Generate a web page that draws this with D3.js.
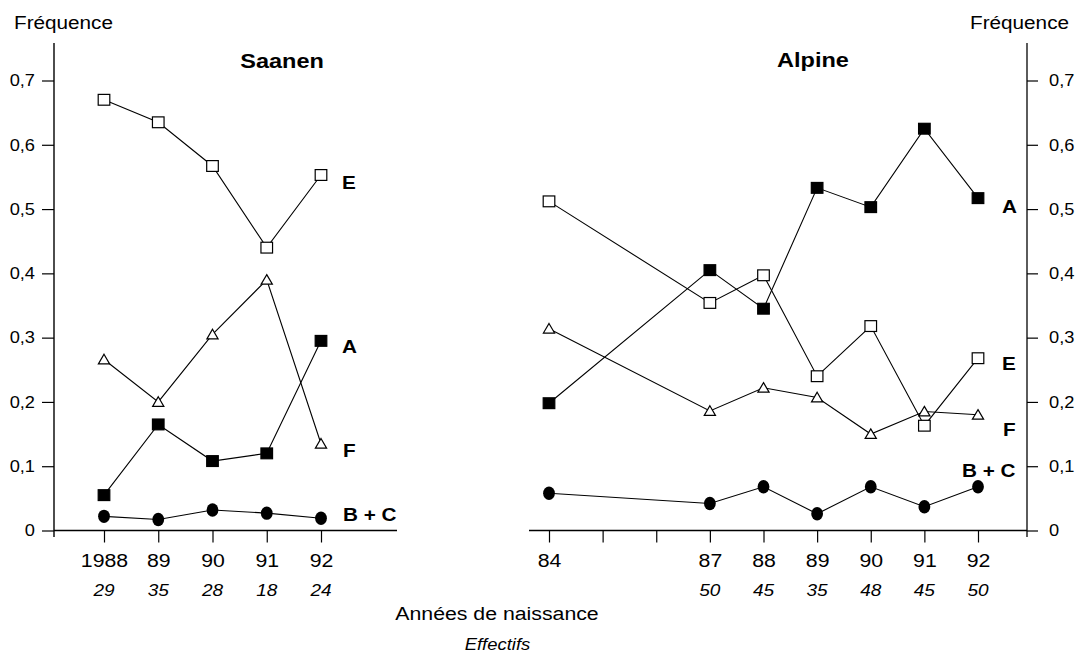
<!DOCTYPE html>
<html>
<head>
<meta charset="utf-8">
<script src="https://cdn.jsdelivr.net/npm/d3@7"></script>
<style>
  html, body { margin: 0; padding: 0; background: #fff; }
  svg { display: block; font-family: "Liberation Sans", Arial, Helvetica, sans-serif; }
</style>
</head>
<body>
<svg id="chart" width="1078" height="654"></svg>
<script>
// Fréquence des allèles par année de naissance — Saanen et Alpine
const saanenYears = [1988, 1989, 1990, 1991, 1992];
const saanenTickLabels = ["1988", "89", "90", "91", "92"];
const saanenCounts = [29, 35, 28, 18, 24];
const saanenE = [0.670, 0.635, 0.567, 0.440, 0.553];
const saanenF = [0.266, 0.200, 0.305, 0.390, 0.135];
const saanenA = [0.055, 0.165, 0.108, 0.120, 0.295];
const saanenBC = [0.022, 0.017, 0.032, 0.027, 0.019];

const alpineYears = [1984, 1987, 1988, 1989, 1990, 1991, 1992];
const alpineTickYears = [1984, 1985, 1986, 1987, 1988, 1989, 1990, 1991, 1992];
const alpineTickLabels = ["84", "", "", "87", "88", "89", "90", "91", "92"];
const alpineCountYears = [1987, 1988, 1989, 1990, 1991, 1992];
const alpineCounts = [50, 45, 35, 48, 45, 50];
const alpineA = [0.198, 0.405, 0.345, 0.533, 0.503, 0.625, 0.517];
const alpineE = [0.512, 0.354, 0.397, 0.240, 0.318, 0.163, 0.268];
const alpineF = [0.314, 0.186, 0.222, 0.207, 0.150, 0.185, 0.180];
const alpineBC = [0.058, 0.042, 0.068, 0.026, 0.068, 0.037, 0.068];

const yTicks = [0, 0.1, 0.2, 0.3, 0.4, 0.5, 0.6, 0.7];

const SX = 1.12; // horizontal widening of lettering
const svg = d3.select("#chart");

const y = d3.scaleLinear().domain([0, 0.7]).range([530.5, 80.5]);
const xS = d3.scaleLinear().domain([1988, 1992]).range([104, 321]);
const xA = d3.scaleLinear().domain([1984, 1992]).range([549, 978]);

const fmt = d => d === 0 ? "0" : d3.format(".1f")(d).replace(".", ",");

function txt(parent, x, yy, s, o = {}) {
  return parent.append("text")
    .attr("transform", `translate(${x},${yy}) scale(${SX},1)`)
    .attr("font-size", o.size || 18)
    .attr("font-weight", o.weight || "normal")
    .attr("font-style", o.style || "normal")
    .attr("text-anchor", o.anchor || "start")
    .attr("fill", "#000")
    .text(s);
}

// vertical axes
svg.append("line").attr("x1", 54).attr("x2", 54).attr("y1", 43).attr("y2", 537)
  .attr("stroke", "#000").attr("stroke-width", 1.4);
svg.append("line").attr("x1", 1027).attr("x2", 1027).attr("y1", 43).attr("y2", 537)
  .attr("stroke", "#333").attr("stroke-width", 1.6);

const gyL = svg.append("g").attr("transform", "translate(54,0)")
  .call(d3.axisLeft(y).tickValues(yTicks).tickFormat(fmt).tickSize(12).tickPadding(7));
const gyR = svg.append("g").attr("transform", "translate(1027,0)")
  .call(d3.axisRight(y).tickValues(yTicks).tickFormat(fmt).tickSize(11).tickPadding(11));
[gyL, gyR].forEach(g => {
  g.select(".domain").remove();
  g.selectAll(".tick line").attr("stroke", "#000").attr("stroke-width", 1.2);
  g.selectAll("text").attr("font-size", 16.3).attr("fill", "#000")
    .attr("font-family", "Liberation Sans, Arial, sans-serif")
    .attr("transform", `scale(${SX},1)`)
    .attr("x", function() { return +d3.select(this).attr("x") / SX; });
});

// horizontal axes
const gxL = svg.append("g").attr("transform", `translate(0,${y(0)})`)
  .call(d3.axisBottom(xS).tickValues(saanenYears).tickFormat((d, i) => saanenTickLabels[i])
    .tickSize(12).tickPadding(11).tickSizeOuter(0));
const gxR = svg.append("g").attr("transform", `translate(0,${y(0)})`)
  .call(d3.axisBottom(xA).tickValues(alpineTickYears).tickFormat((d, i) => alpineTickLabels[i])
    .tickSize(12).tickPadding(11).tickSizeOuter(0));
gxL.select(".domain").attr("d", "M54,0H397");
gxR.select(".domain").attr("d", "M529,0H1027");
[gxL, gxR].forEach(g => {
  g.select(".domain").attr("stroke", "#000").attr("stroke-width", 1.4);
  g.selectAll(".tick line").attr("stroke", "#000").attr("stroke-width", 1.2);
  g.selectAll("text").attr("font-size", 19).attr("fill", "#000")
    .attr("font-family", "Liberation Sans, Arial, sans-serif")
    .attr("transform", `scale(${SX},1)`);
});

// sample sizes (effectifs)
saanenYears.forEach((yr, i) => txt(svg, xS(yr), 596, saanenCounts[i], { size: 17, style: "italic", anchor: "middle" }));
alpineCountYears.forEach((yr, i) => txt(svg, xA(yr), 596, alpineCounts[i], { size: 17, style: "italic", anchor: "middle" }));

// series
function drawSeries(x, years, values, marker) {
  const g = svg.append("g");
  g.append("path").datum(values)
    .attr("d", d3.line().x((d, i) => x(years[i])).y(d => y(d)))
    .attr("fill", "none").attr("stroke", "#000").attr("stroke-width", 1.1);
  const pts = g.selectAll(".m").data(values).enter();
  if (marker === "openSquare" || marker === "filledSquare") {
    pts.append("rect")
      .attr("x", (d, i) => x(years[i]) - 5.8).attr("y", d => y(d) - 5.4)
      .attr("width", 11.6).attr("height", 10.8)
      .attr("fill", marker === "filledSquare" ? "#000" : "#fff")
      .attr("stroke", "#000").attr("stroke-width", 1.2);
  } else if (marker === "triangle") {
    pts.append("path")
      .attr("d", (d, i) => {
        const cx = x(years[i]), cy = y(d);
        return `M${cx},${cy - 5.2}L${cx + 5.6},${cy + 4.4}L${cx - 5.6},${cy + 4.4}Z`;
      })
      .attr("fill", "#fff").attr("stroke", "#000").attr("stroke-width", 1.2);
  } else {
    pts.append("ellipse")
      .attr("cx", (d, i) => x(years[i])).attr("cy", d => y(d))
      .attr("rx", 5.9).attr("ry", 6.7).attr("fill", "#000");
  }
}

drawSeries(xS, saanenYears, saanenE, "openSquare");
drawSeries(xS, saanenYears, saanenF, "triangle");
drawSeries(xS, saanenYears, saanenA, "filledSquare");
drawSeries(xS, saanenYears, saanenBC, "circle");

drawSeries(xA, alpineYears, alpineF, "triangle");
drawSeries(xA, alpineYears, alpineE, "openSquare");
drawSeries(xA, alpineYears, alpineA, "filledSquare");
drawSeries(xA, alpineYears, alpineBC, "circle");

// series names
const lab = { size: 18.5, weight: "bold" };
txt(svg, 342, 189, "E", lab);
txt(svg, 342, 353, "A", lab);
txt(svg, 343, 457, "F", lab);
txt(svg, 343, 521, "B + C", lab);
txt(svg, 1002, 213, "A", lab);
txt(svg, 1002, 370, "E", lab);
txt(svg, 1003, 436, "F", lab);
txt(svg, 962, 477, "B + C", lab);

// titles
txt(svg, 282, 68, "Saanen", { size: 21, weight: "bold", anchor: "middle" });
txt(svg, 813, 67, "Alpine", { size: 21, weight: "bold", anchor: "middle" });
txt(svg, 14, 29, "Fréquence", { size: 18.5 });
txt(svg, 1069, 29, "Fréquence", { size: 18.5, anchor: "end" });
txt(svg, 497, 620, "Années de naissance", { size: 19, anchor: "middle" });
txt(svg, 497.5, 650, "Effectifs", { size: 16.5, style: "italic", anchor: "middle" });
</script>
</body>
</html>
